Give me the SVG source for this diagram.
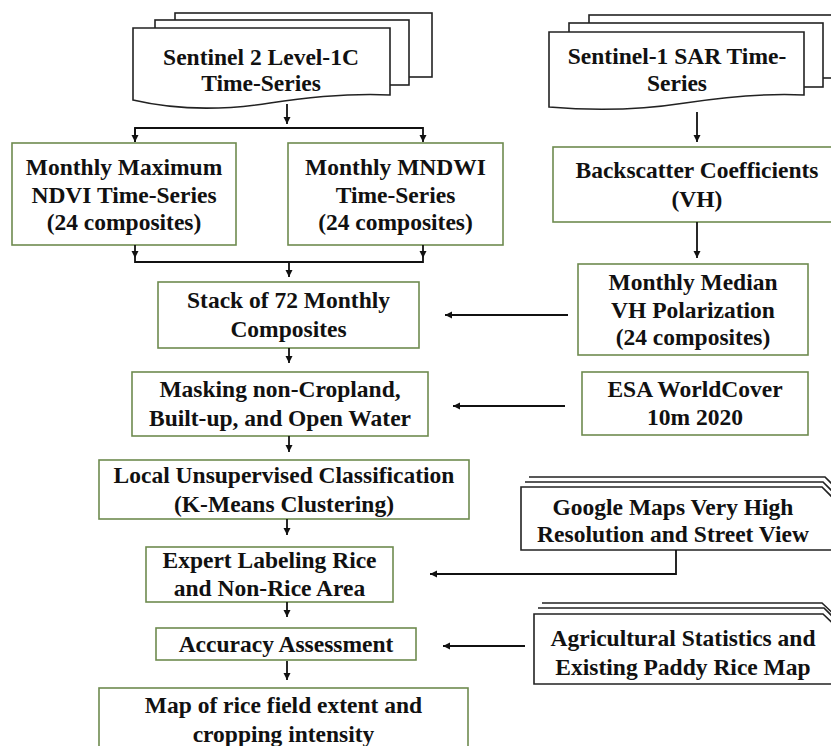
<svg xmlns="http://www.w3.org/2000/svg" width="831" height="746" viewBox="0 0 831 746">
<defs>
<style>
.box{fill:#fff;stroke:#6e8b4f;stroke-width:1.6}
.doc{fill:#fff;stroke:#222;stroke-width:1.6}
.t{font-family:"Liberation Serif","Times New Roman",serif;font-weight:bold;font-size:23.5px;fill:#111;text-anchor:middle}
.c{fill:none;stroke:#111;stroke-width:1.8}
</style>
<marker id="ah" viewBox="0 0 10 10" refX="10" refY="5" markerWidth="7" markerHeight="8" markerUnits="userSpaceOnUse" orient="auto">
<path d="M0,0 L10,5 L0,10 Z" fill="#111"/>
</marker>
</defs>
<rect width="831" height="746" fill="#fff"/>

<g id="s2doc">
<rect class="doc" x="175" y="13" width="257" height="64"/>
<rect class="doc" x="155" y="20" width="254" height="65"/>
<path class="doc" d="M133,28 H390 V95 C350,93 310,97 270,103 C225,110 180,111 133,100 Z"/>
<text class="t" x="261" y="65">Sentinel 2 Level-1C</text>
<text class="t" x="261" y="91">Time-Series</text>
</g>

<g id="s1doc">
<rect class="doc" x="589" y="15" width="260" height="63"/>
<rect class="doc" x="569" y="23" width="254" height="64"/>
<path class="doc" d="M549,32 H804 V95 C765,93 725,97 685,103 C640,110 595,111 549,107 Z"/>
<text class="t" x="677" y="64">Sentinel-1 SAR Time-</text>
<text class="t" x="677" y="91">Series</text>
</g>

<g id="ndvi">
<rect class="box" x="12" y="143" width="224" height="102"/>
<text class="t" x="124" y="175">Monthly Maximum</text>
<text class="t" x="124" y="203">NDVI Time-Series</text>
<text class="t" x="124" y="230">(24 composites)</text>
</g>

<g id="mndwi">
<rect class="box" x="288" y="143" width="215" height="102"/>
<text class="t" x="395.5" y="175">Monthly MNDWI</text>
<text class="t" x="395.5" y="203">Time-Series</text>
<text class="t" x="395.5" y="230">(24 composites)</text>
</g>

<g id="backscatter">
<rect class="box" x="553" y="147" width="290" height="75"/>
<text class="t" x="697" y="178">Backscatter Coefficients</text>
<text class="t" x="697" y="207">(VH)</text>
</g>

<g id="stack">
<rect class="box" x="158" y="282" width="261" height="66"/>
<text class="t" x="288.5" y="308">Stack of 72 Monthly</text>
<text class="t" x="288.5" y="337">Composites</text>
</g>

<g id="vhmedian">
<rect class="box" x="578" y="264" width="230" height="91"/>
<text class="t" x="693" y="290">Monthly Median</text>
<text class="t" x="693" y="318">VH Polarization</text>
<text class="t" x="693" y="345">(24 composites)</text>
</g>

<g id="masking">
<rect class="box" x="132" y="372" width="296" height="64"/>
<text class="t" x="280" y="397">Masking non-Cropland,</text>
<text class="t" x="280" y="426">Built-up, and Open Water</text>
</g>

<g id="esa">
<rect class="box" x="582" y="372" width="226" height="63"/>
<text class="t" x="695" y="397">ESA WorldCover</text>
<text class="t" x="695" y="425">10m 2020</text>
</g>

<g id="local">
<rect class="box" x="99" y="460" width="370" height="59"/>
<text class="t" x="284" y="483">Local Unsupervised Classification</text>
<text class="t" x="284" y="512">(K-Means Clustering)</text>
</g>

<g id="google">
<path class="doc" d="M529,477 H825 L840,492"/>
<path class="doc" d="M525,482 H823 L840,499"/>
<path class="doc" d="M521,487 H822 L840,505 V550 H521 Z"/>
<text class="t" x="673" y="515">Google Maps Very High</text>
<text class="t" x="673" y="542">Resolution and Street View</text>
</g>

<g id="expert">
<rect class="box" x="146" y="547" width="247" height="55"/>
<text class="t" x="269.5" y="568">Expert Labeling Rice</text>
<text class="t" x="269.5" y="596">and Non-Rice Area</text>
</g>

<g id="accuracy">
<rect class="box" x="156" y="628" width="260" height="32"/>
<text class="t" x="286" y="652">Accuracy Assessment</text>
</g>

<g id="agri">
<path class="doc" d="M542,603 H822 L840,620"/>
<path class="doc" d="M538,608 H824 L840,624"/>
<path class="doc" d="M534,614 H823 L840,630 V684 H534 Z"/>
<text class="t" x="683" y="646">Agricultural Statistics and</text>
<text class="t" x="683" y="675">Existing Paddy Rice Map</text>
</g>

<g id="map">
<rect class="box" x="99" y="688" width="369" height="80"/>
<text class="t" x="283.5" y="713">Map of rice field extent and</text>
<text class="t" x="283.5" y="742">cropping intensity</text>
</g>

<g id="connectors">
<path class="c" d="M287,104 V124" marker-end="url(#ah)"/>
<path class="c" d="M135,142 V128 H423 V142" marker-end="url(#ah)"/>
<path class="c" d="M135,128 V142" marker-end="url(#ah)"/>
<path class="c" d="M135,245 V258" marker-end="url(#ah)"/>
<path class="c" d="M423,245 V258" marker-end="url(#ah)"/>
<path class="c" d="M135,258 V262 H423 V258"/>
<path class="c" d="M289,262 V277" marker-end="url(#ah)"/>
<path class="c" d="M697,112 V142" marker-end="url(#ah)"/>
<path class="c" d="M697,222 V258" marker-end="url(#ah)"/>
<path class="c" d="M568,315 H445" marker-end="url(#ah)"/>
<path class="c" d="M289,348 V363" marker-end="url(#ah)"/>
<path class="c" d="M565,406 H453" marker-end="url(#ah)"/>
<path class="c" d="M289,436 V452" marker-end="url(#ah)"/>
<path class="c" d="M287,519 V535" marker-end="url(#ah)"/>
<path class="c" d="M676,550 V574 H430" marker-end="url(#ah)"/>
<path class="c" d="M287,602 V617" marker-end="url(#ah)"/>
<path class="c" d="M525,646 H443" marker-end="url(#ah)"/>
<path class="c" d="M287,661 V680" marker-end="url(#ah)"/>
</g>
</svg>
